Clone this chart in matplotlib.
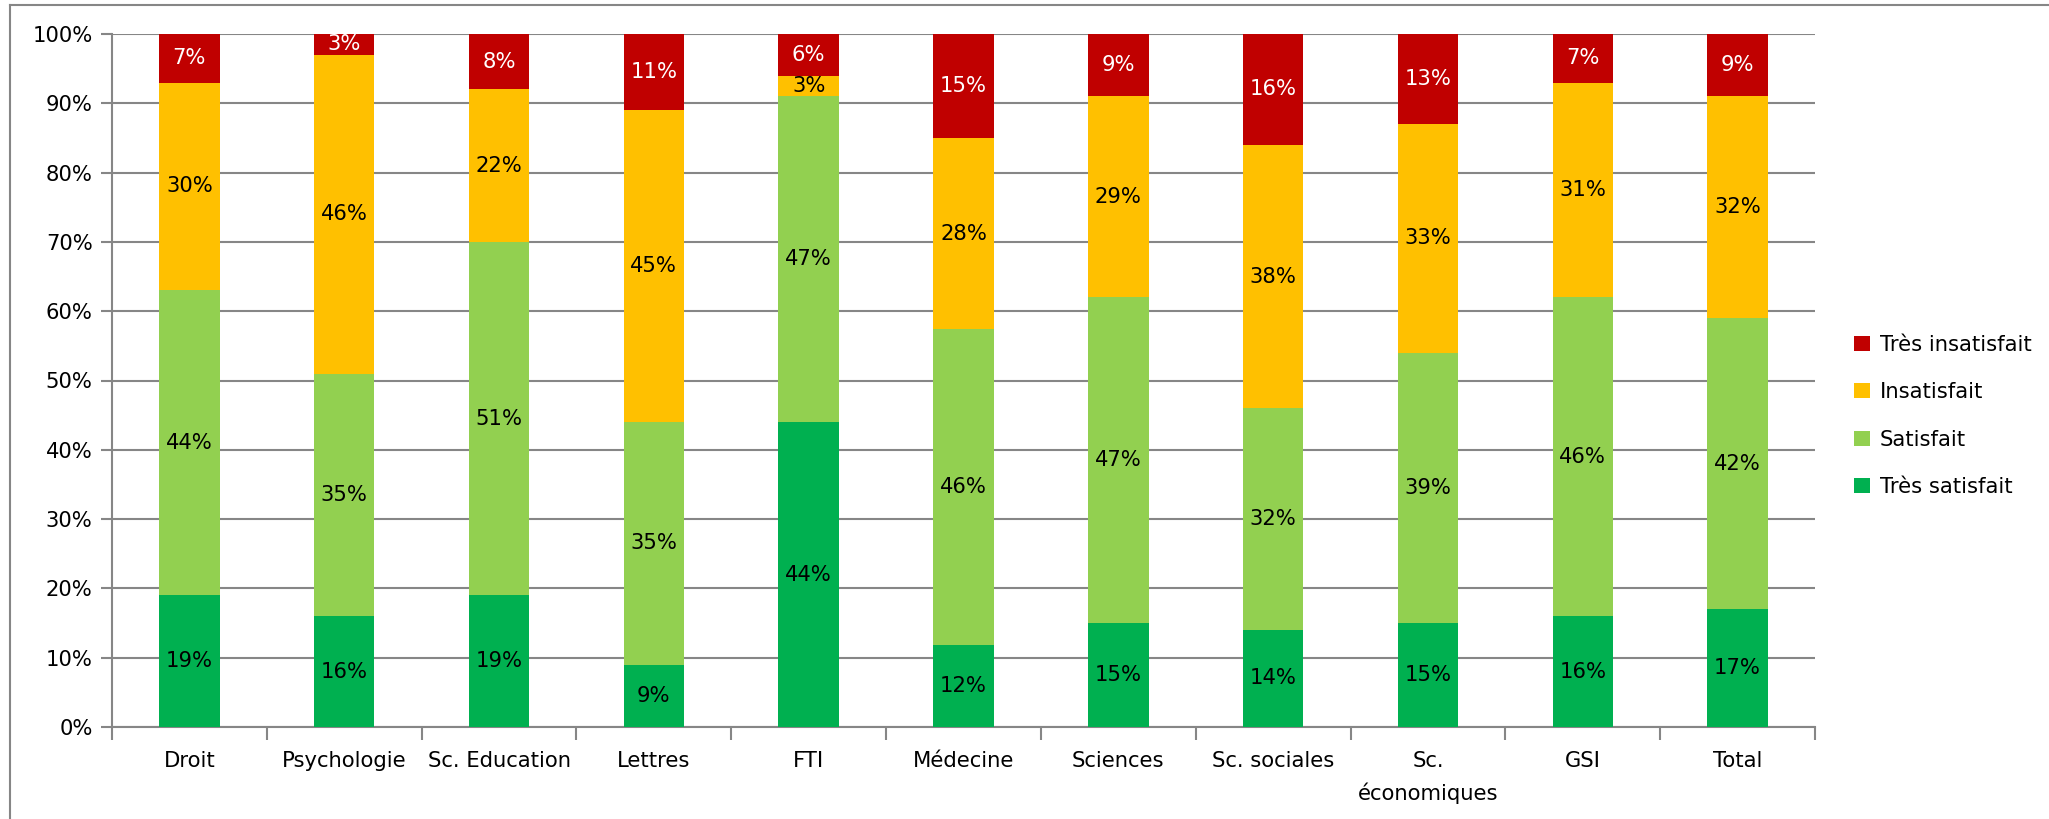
import matplotlib
matplotlib.use("Agg")
import matplotlib.pyplot as plt
from matplotlib.lines import Line2D
import numpy as np

categories = ["Droit", "Psychologie", "Sc. Education", "Lettres", "FTI", "Médecine",
              "Sciences", "Sc. sociales", "Sc.\néconomiques", "GSI", "Total"]
tres_satisfait = [19, 16, 19, 9, 44, 11.8, 15, 14, 15, 16, 17]
satisfait = [44, 35, 51, 35, 47, 45.6, 47, 32, 39, 46, 42]
insatisfait = [30, 46, 22, 45, 3, 27.6, 29, 38, 33, 31, 32]
tres_insatisfait = [7, 3, 8, 11, 6, 15.0, 9, 16, 13, 7, 9]
series_names = ["Très satisfait", "Satisfait", "Insatisfait", "Très insatisfait"]
yticks = [0, 10, 20, 30, 40, 50, 60, 70, 80, 90, 100]

colors = ["#00B050", "#92D050", "#FFC000", "#C00000"]
label_colors = ["black", "black", "black", "white"]

plt.rcParams['font.family'] = ['DejaVu Sans']
FS = 15.2

W, H = 2049, 819
fig = plt.figure(figsize=(W / 100, H / 100), dpi=100)
ax = fig.add_axes([112 / W, 1 - 727 / H, (1815 - 112) / W, (727 - 34) / H])

x = np.arange(len(categories))
bottom = np.zeros(len(categories))
handles = []
for vals, name, col, lc in zip([tres_satisfait, satisfait, insatisfait, tres_insatisfait],
                               series_names, colors, label_colors):
    vals = np.array(vals, dtype=float)
    bars = ax.bar(x, vals, width=0.39, bottom=bottom, color=col, label=name, zorder=3)
    handles.append(bars)
    for xi, b, v in zip(x, bottom, vals):
        ax.text(xi, b + v / 2, f"{round(v):.0f}%", ha="center", va="center",
                color=lc, fontsize=FS, zorder=4)
    bottom += vals

ax.set_xlim(-0.5, len(categories) - 0.5)
ax.set_ylim(0, 100)
ax.set_yticks(yticks)
ax.set_yticklabels([f"{t}%" for t in yticks], fontsize=FS)
ax.yaxis.grid(True, color="#868686", linewidth=1.5, zorder=0)
ax.set_axisbelow(True)

ax.set_xticks(x)
ax.set_xticklabels(categories, fontsize=FS, linespacing=1.7)
ax.set_xticks(np.arange(-0.5, len(categories) + 0.5, 1), minor=True)
ax.tick_params(axis="x", which="major", length=0, pad=17)
ax.tick_params(axis="x", which="minor", length=9, width=1.5, color="#868686", direction="out")
ax.tick_params(axis="y", length=8, width=1.5, color="#868686", direction="out", pad=6)
for lab in ax.get_xticklabels():
    lab.set_verticalalignment("top")

for s in ["top", "right"]:
    ax.spines[s].set_visible(False)
for s in ["left", "bottom"]:
    ax.spines[s].set_color("#868686")
    ax.spines[s].set_linewidth(1.5)

leg = fig.legend(handles[::-1], series_names[::-1], loc="center left",
                 bbox_to_anchor=(1848 / W, 1 - 416 / H), frameon=False, fontsize=FS,
                 handlelength=0.72, handleheight=0.72, handletextpad=0.5, labelspacing=1.3,
                 borderaxespad=0, borderpad=0.3)

# outer frame
fig.add_artist(Line2D([10 / W, 1], [1 - 5 / H, 1 - 5 / H], color="#868686", linewidth=1.5,
                      transform=fig.transFigure))
fig.add_artist(Line2D([10 / W, 10 / W], [0, 1 - 5 / H], color="#868686", linewidth=1.5,
                      transform=fig.transFigure))

fig.savefig("out.png", dpi=100)
